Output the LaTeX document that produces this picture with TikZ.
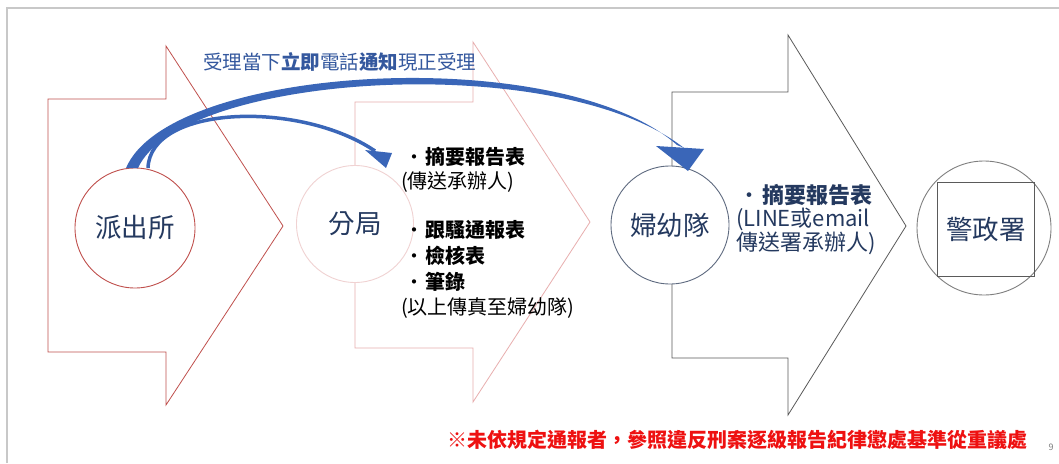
\documentclass[tikz,border=0pt]{standalone}
\usepackage{fontspec}
\setmainfont{Noto Sans CJK TC}
\usetikzlibrary{calc}
\definecolor{framegray}{HTML}{C8C8C8}
\definecolor{redline}{HTML}{C0504D}
\definecolor{pinkline}{HTML}{E8AFAF}
\definecolor{pinkcircle}{HTML}{F0D2D2}
\definecolor{grayline}{HTML}{5A5A5A}
\definecolor{graycircle}{HTML}{7F7F7F}
\definecolor{navycircle}{HTML}{5F6B80}
\definecolor{navytext}{HTML}{24395F}
\definecolor{bluearrow}{HTML}{3A66B8}
\definecolor{bluetext}{HTML}{34589E}
\definecolor{warnred}{HTML}{EE1111}
\begin{document}
\begin{tikzpicture}[x=1pt,y=-1pt,
  bigarrow/.style={line width=0.8pt, fill=none, line join=miter},
  station/.style={circle, fill=white, line width=0.9pt, inner sep=0pt, text=navytext,
                  font=\fontsize{26.5}{28}\selectfont},
  listtxt/.style={anchor=west, inner sep=0pt, font=\fontsize{20}{24}\selectfont},
  bluetxt/.style={anchor=west, inner sep=0pt, text=navytext, font=\fontsize{22}{24}\selectfont}]
\useasboundingbox (0,0) rectangle (1059,463);
\fill[white] (0,0) rectangle (1059,463);
% slide frame
\draw[framegray, line width=1.6pt] (7,463) -- (7,8) -- (1059,8);
% big process arrows
\draw[bigarrow, redline] (48,99) -- (166,99) -- (166,46) -- (283,226) -- (166,405) -- (166,352) -- (48,352) -- cycle;
\draw[bigarrow, pinkline] (355,102) -- (473,102) -- (473,42) -- (590,222) -- (473,402) -- (473,348) -- (355,348) -- cycle;
\draw[bigarrow, grayline] (672,92) -- (788,92) -- (788,35) -- (906,226) -- (788,415) -- (788,358) -- (672,358) -- cycle;
% stations
\node[station, draw=redline, minimum size=120pt] (pcs) at (135,228) {派出所};
\node[station, draw=pinkcircle, minimum size=117pt] (fj) at (355,224) {分局};
\node[station, draw=navycircle, minimum size=118pt] (fyd) at (670,225) {婦幼隊};
\node[station, draw=graycircle, minimum size=134pt] (jzs) at (984,228) {};
\node[draw=grayline, line width=0.9pt, minimum width=97pt, minimum height=94pt, inner sep=0pt,
      text=navytext, font=\fontsize{26.5}{28}\selectfont] (jzsbox) at (986,229) {警政署};
% blue notification arrows
\coordinate (thickA) at ($(pcs.north)+(-9,0.5)$);
\coordinate (thickB) at ($(pcs.north)+(3,0.5)$);
\coordinate (thinA) at ($(pcs.north)+(13,0.5)$);
\fill[bluearrow] (thickA) .. controls (170,64) and (560,42) .. (677,145)
   -- (684,148) .. controls (558,49) and (181,73) .. (thickB) -- cycle;
\fill[bluearrow] (656,146) -- (704,149) -- (688,171) -- cycle;
\draw[bluearrow, line width=3.5pt] (thinA) .. controls (150,105) and (300,100) .. (375,151);
\fill[bluearrow] (365,150) -- (392,153) -- (386,168) -- cycle;
% top label
\node[anchor=west, inner sep=0pt, text=bluetext, font=\fontsize{19.5}{22}\selectfont] (toplabel) at (203,62)
  {受理當下\textbf{立即}電話\textbf{通知}現正受理};
% 分局 list
\node[listtxt] (l1) at (403,157) {\makebox[22pt][c]{•}\textbf{摘要報告表}};
\node[listtxt] (l2) at (401,182) {(傳送承辦人)};
\node[listtxt] (l3) at (403,230) {\makebox[22pt][c]{•}\textbf{跟騷通報表}};
\node[listtxt] (l4) at (403,256) {\makebox[22pt][c]{•}\textbf{檢核表}};
\node[listtxt] (l5) at (403,282) {\makebox[22pt][c]{•}\textbf{筆錄}};
\node[listtxt] (l6) at (401,308) {(以上傳真至婦幼隊)};
% 婦幼隊 list
\node[bluetxt] (m1) at (737,195) {\makebox[25pt][l]{\hspace{1pt}•}\textbf{摘要報告表}};
\node[bluetxt] (m2) at (736,219) {(LINE或email};
\node[bluetxt] (m3) at (736,243) {傳送署承辦人)};
% warning
\node[anchor=west, inner sep=0pt, text=warnred, font=\bfseries\fontsize{20}{22}\selectfont] (warn) at (447,440)
  {※未依規定通報者，參照違反刑案逐級報告紀律懲處基準從重議處};
\node[inner sep=0pt, text=graycircle, font=\fontsize{9}{10}\selectfont] (pg) at (1051,447) {9};
\end{tikzpicture}
\end{document}
